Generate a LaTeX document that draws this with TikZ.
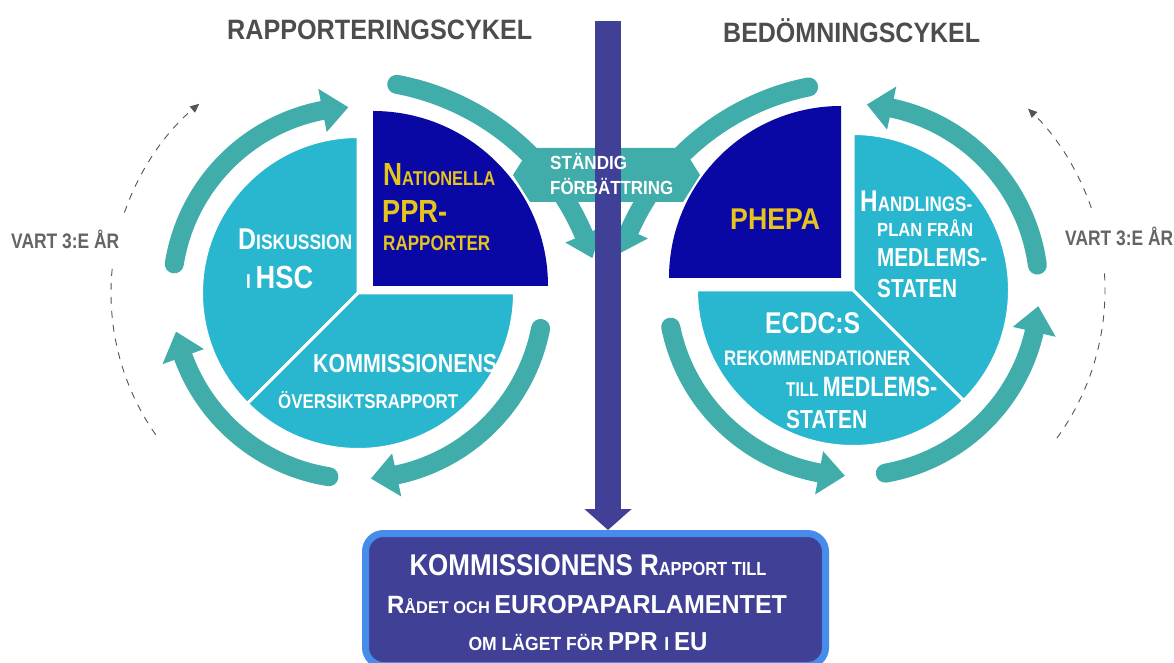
\documentclass[tikz,border=0pt]{standalone}
\usepackage{fontspec}
\setmainfont{Liberation Sans}
\usepackage{graphicx}
\usetikzlibrary{arrows.meta}
\definecolor{arrowteal}{RGB}{64,173,170}
\definecolor{pieblue}{RGB}{41,182,207}
\definecolor{darkq}{RGB}{10,8,165}
\definecolor{barcol}{RGB}{64,64,150}
\definecolor{goldtxt}{RGB}{230,196,30}
\definecolor{boxblue}{RGB}{70,140,235}
\definecolor{titlegray}{RGB}{77,77,77}
\definecolor{vartgray}{RGB}{100,100,100}
\definecolor{dashgray}{RGB}{85,85,85}
\newlength\fitlen
\newcommand\fitw[2]{\settowidth{\fitlen}{#2}\pgfmathsetmacro\fitsx{#1/\fitlen}\scalebox{\fitsx}[1]{#2}}
\newcommand\myfs[1]{\fontsize{#1}{#1}\selectfont}
\begin{document}
\begin{tikzpicture}[x=1pt,y=1pt,
  ring/.style={draw=arrowteal, line width=19pt, line cap=round},
  headfill/.style={fill=arrowteal},
  dashline/.style={draw=dashgray, line width=0.9pt, dash pattern=on 7pt off 7pt},
  wtxt/.style={text=white, font=\bfseries, inner sep=0pt, anchor=base west},
  ytxt/.style={wtxt, text=goldtxt},
  gtxt/.style={wtxt, text=vartgray},
  ttxt/.style={wtxt, text=titlegray},
  btxt/.style={text=white, font=\bfseries, inner sep=0pt, anchor=base}]
\useasboundingbox (0,0) rectangle (1174,662);
\coordinate (L) at (358,369);
\coordinate (R) at (853,372);
\coordinate (LQ) at (373,376);
\coordinate (RQ) at (841,384);
\coordinate (LB) at (350,328);
\coordinate (RB) at (858,330);
\coordinate (bartop) at (608,641);

% left cycle ring arrows (clockwise)
\begin{scope}[shift={(L)}]
  \draw[ring] (171:186) arc[start angle=171,end angle=101,radius=186];
  \fill[headfill] (101:164) -- (101:208) -- (93:186) -- cycle;
  \draw[ring] (-11:186) arc[start angle=-11,end angle=-78,radius=186];
  \fill[headfill] (-78:164) -- (-78:208) -- (-86:186) -- cycle;
  \draw[ring] (261:186) arc[start angle=261,end angle=200,radius=186];
  \fill[headfill] (200:164) -- (200:208) -- (192:186) -- cycle;
  \draw[dashline] (215:247) arc[start angle=215,end angle=173,radius=247];
  \draw[dashline,-{Triangle[length=9pt,width=8pt]}] (161:247) arc[start angle=161,end angle=130,radius=247];
\end{scope}
% right cycle ring arrows (counter-clockwise)
\begin{scope}[shift={(R)}]
  \draw[ring] (7.7:186) arc[start angle=7.7,end angle=78,radius=186];
  \fill[headfill] (78:164) -- (78:208) -- (85.7:186) -- cycle;
  \draw[ring] (-80:186) arc[start angle=-80,end angle=-13,radius=186];
  \fill[headfill] (-13:164) -- (-13:208) -- (-5:186) -- cycle;
  \draw[ring] (191.5:186) arc[start angle=191.5,end angle=259.5,radius=186];
  \fill[headfill] (259.5:164) -- (259.5:208) -- (267.5:186) -- cycle;
  \draw[dashline] (-36:252) arc[start angle=-36,end angle=5,radius=252];
  \draw[dashline,-{Triangle[length=9pt,width=8pt]}] (19:252) arc[start angle=19,end angle=46,radius=252];
\end{scope}
% big arcs towards the centre
\begin{scope}[shift={(LB)}]
  \draw[ring] (79.4:254) arc[start angle=79.4,end angle=23,radius=254];
  \fill[headfill] (23:234) -- (23:274) -- (17.4:254) -- cycle;
\end{scope}
\begin{scope}[shift={(RB)}]
  \draw[ring] (101.4:250) arc[start angle=101.4,end angle=156,radius=250];
  \fill[headfill] (156:230) -- (156:270) -- (161.5:250) -- cycle;
\end{scope}

% pies
\filldraw[fill=pieblue, draw=white, line width=3pt] (L) -- ++(90:156.5) arc[start angle=90,end angle=225,radius=156.5] -- cycle;
\filldraw[fill=pieblue, draw=white, line width=3pt] (L) -- ++(225:156.5) arc[start angle=225,end angle=360,radius=156.5] -- cycle;
\fill[darkq] (LQ) -- ++(0:175) arc[start angle=0,end angle=90,radius=175] -- cycle;
\filldraw[fill=pieblue, draw=white, line width=3pt] (R) -- ++(-45:156.5) arc[start angle=-45,end angle=90,radius=156.5] -- cycle;
\filldraw[fill=pieblue, draw=white, line width=3pt] (R) -- ++(180:156.5) arc[start angle=180,end angle=315,radius=156.5] -- cycle;
\fill[darkq] (RQ) -- ++(90:172) arc[start angle=90,end angle=180,radius=172] -- cycle;

% continuous improvement banner
\fill[arrowteal] (530,514) -- (683,514) -- (700,487) -- (683,460) -- (530,460) -- (513,487) -- cycle;

% bottom box and central bar
\node[draw=boxblue, line width=7pt, fill=barcol, rounded corners=18pt, minimum width=460pt, minimum height=132pt, inner sep=0pt] (box) at (595.5,62.5) {};
\draw[barcol, line width=26pt, -{Triangle[length=21pt,width=46pt]}] (bartop) -- (bartop |- box.north);

% titles
\node[ttxt] (t1) at (227,622) {\fitw{305}{\myfs{28}RAPPORTERINGSCYKEL}};
\node[ttxt] (t2) at (723,619) {\fitw{257}{\myfs{28}BEDÖMNINGSCYKEL}};
\node[gtxt] (v1) at (11,413) {\fitw{108}{\myfs{21}VART 3:E ÅR}};
\node[gtxt] (v2) at (1065,416) {\fitw{108}{\myfs{21}VART 3:E ÅR}};

% left pie texts
\node[ytxt] (n1) at (383,476) {\fitw{112}{\myfs{32}N\myfs{20}ATIONELLA}};
\node[ytxt] (n2) at (382,439) {\fitw{65}{\myfs{32}PPR-}};
\node[ytxt] (n3) at (383,411) {\fitw{107}{\myfs{21}RAPPORTER}};
\node[wtxt] (d1) at (238,412) {\fitw{114}{\myfs{30}D\myfs{21}ISKUSSION}};
\node[wtxt] (d2) at (246,373) {\fitw{67}{\myfs{20}I \myfs{32}HSC}};
\node[wtxt] (k1) at (313,290) {\fitw{184}{\myfs{26}KOMMISSIONENS}};
\node[wtxt] (k2) at (278,254) {\fitw{180}{\myfs{20}ÖVERSIKTSRAPPORT}};

% right pie texts
\node[ytxt] (p1) at (730,432) {\fitw{90}{\myfs{30}PHEPA}};
\node[wtxt] (h1) at (860,450) {\fitw{112}{\myfs{30}H\myfs{21}ANDLINGS-}};
\node[wtxt] (h2) at (877,425) {\fitw{96}{\myfs{19}PLAN FRÅN}};
\node[wtxt] (h3) at (877,395) {\fitw{110}{\myfs{26}MEDLEMS-}};
\node[wtxt] (h4) at (877,364) {\fitw{80}{\myfs{26}STATEN}};
\node[wtxt] (e1) at (765,329) {\fitw{95}{\myfs{30}ECDC:S}};
\node[wtxt] (e2) at (724,297) {\fitw{186}{\myfs{21}REKOMMENDATIONER}};
\node[wtxt] (e3) at (786,266) {\fitw{151}{\myfs{20}TILL \myfs{28}MEDLEMS-}};
\node[wtxt] (e4) at (786,234) {\fitw{81}{\myfs{26}STATEN}};

% banner text
\node[wtxt] (s1) at (550,492) {\fitw{77}{\myfs{19}STÄNDIG}};
\node[wtxt] (s2) at (550,467) {\fitw{123}{\myfs{19}FÖRBÄTTRING}};

% bottom box text
\node[btxt] (b1) at (588,87) {\fitw{357}{\myfs{30}KOMMISSIONENS R\myfs{19}APPORT TILL}};
\node[btxt] (b2) at (587,49) {\fitw{400}{\myfs{25}R\myfs{17}ÅDET OCH \myfs{26}EUROPAPARLAMENTET}};
\node[btxt] (b3) at (588,12) {\fitw{239}{\myfs{19}OM LÄGET FÖR \myfs{26}PPR \myfs{19}I \myfs{26}EU}};
\end{tikzpicture}
\end{document}
